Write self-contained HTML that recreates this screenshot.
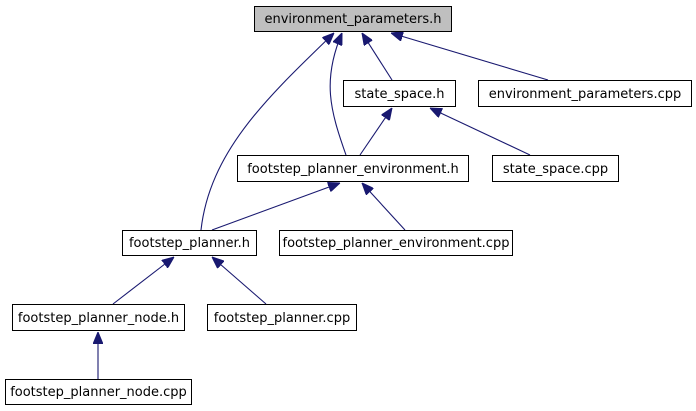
<!DOCTYPE html>
<html><head><meta charset="utf-8"><style>
html,body{margin:0;padding:0;background:#fff;}
svg{display:block;}
text{font-family:"DejaVu Sans","Liberation Sans",sans-serif;font-size:13px;fill:#000;}
</style></head><body>
<svg width="696" height="411" viewBox="0 0 696 411" xmlns="http://www.w3.org/2000/svg">
<defs>
<marker id="a" viewBox="0 0 12 10" refX="12" refY="5" markerWidth="12" markerHeight="10" markerUnits="userSpaceOnUse" orient="auto">
<path d="M0,0 L12,5 L0,10 z" fill="#191970" stroke="#191970"/>
</marker>
</defs>
<g fill="none" stroke="#191970" stroke-width="1.1" marker-end="url(#a)">
<path d="M392,80 L362,33"/>
<path d="M548,80 L391,33"/>
<path d="M346,155 C330,110 322,80 342,33"/>
<path d="M201,230 C210,150 270,95 334,33"/>
<path d="M360,155 L392,108"/>
<path d="M530,155 L430,108"/>
<path d="M212,230 L340,183"/>
<path d="M405,230 L362,183"/>
<path d="M113,304 L174,257"/>
<path d="M266,304 L212,257"/>
<path d="M98,379 L98,332"/>
</g>
<g stroke="#000" stroke-width="1">
<rect x="254.5" y="6.5" width="197" height="25" fill="#bfbfbf"/>
<rect x="343.5" y="80.5" width="112" height="26" fill="#fff"/>
<rect x="478.5" y="80.5" width="213" height="26" fill="#fff"/>
<rect x="237.5" y="155.5" width="231" height="26" fill="#fff"/>
<rect x="492.5" y="155.5" width="126" height="26" fill="#fff"/>
<rect x="122.5" y="230.5" width="134" height="25" fill="#fff"/>
<rect x="279.5" y="230.5" width="233" height="25" fill="#fff"/>
<rect x="12.5" y="304.5" width="172" height="26" fill="#fff"/>
<rect x="207.5" y="304.5" width="149" height="26" fill="#fff"/>
<rect x="5.5" y="379.5" width="186" height="25" fill="#fff"/>
</g>
<g text-anchor="middle">
<text x="353" y="23">environment_parameters.h</text>
<text x="399.5" y="98">state_space.h</text>
<text x="585" y="98">environment_parameters.cpp</text>
<text x="353" y="173">footstep_planner_environment.h</text>
<text x="555.5" y="173">state_space.cpp</text>
<text x="189.5" y="247">footstep_planner.h</text>
<text x="396" y="247">footstep_planner_environment.cpp</text>
<text x="98.5" y="322">footstep_planner_node.h</text>
<text x="282" y="322">footstep_planner.cpp</text>
<text x="98.5" y="396">footstep_planner_node.cpp</text>
</g>
</svg>
</body></html>
